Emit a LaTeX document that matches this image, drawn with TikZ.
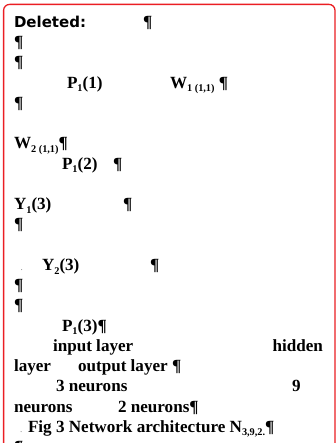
\documentclass[tikz,border=0pt]{standalone}
\usepackage{fontspec}
\setmainfont{Liberation Serif}
\newfontfamily\delfont{DejaVu Sans}
\definecolor{balloonred}{RGB}{235,30,35}
\newcommand{\mysub}[1]{\raisebox{-0.22em}{\fontsize{10.3}{12}\selectfont #1}}
\begin{document}
\begin{tikzpicture}[x=1pt,y=-1pt,
  txt/.style={anchor=base west, inner sep=0pt, outer sep=0pt, font=\bfseries\fontsize{17.1}{21}\selectfont},
  del/.style={anchor=base west, inner sep=0pt, outer sep=0pt, font=\delfont\bfseries\fontsize{15}{18}\selectfont},
  tiny/.style={anchor=base west, inner sep=0pt, outer sep=0pt, text=gray, font=\fontsize{9}{10}\selectfont}]
\useasboundingbox (0,0) rectangle (336,443);
\clip (0,0) rectangle (336,443);
\fill[white] (0,0) rectangle (336,443);
\draw[balloonred, line width=1.3pt, rounded corners=6pt] (3.6,4.4) rectangle (335,480);
% line 0
\node[del] (t0a) at (14,27.4) {Deleted:};
\node[txt] (t0b) at (143,27.4) {¶};
% lines 1,2
\node[txt] (t1) at (14,47.6) {¶};
\node[txt] (t2) at (14,67.9) {¶};
% line 3
\node[txt] (t3a) at (67,88.1) {P\mysub{1}(1)};
\node[txt] (t3b) at (170,88.1) {W\mysub{1 (1,1)} ¶};
% line 4
\node[txt] (t4) at (14,108.4) {¶};
% line 6,7
\node[txt] (t6) at (14,148.8) {W\mysub{2 (1,1)}¶};
\node[txt] (t7a) at (62,169.1) {P\mysub{1}(2)};
\node[txt] (t7b) at (113,169.1) {¶};
% line 9,10
\node[txt] (t9a) at (14,209.6) {Y\mysub{1}(3)};
\node[txt] (t9b) at (123,209.6) {¶};
\node[txt] (t10) at (14,229.8) {¶};
% line 12-14
\node[tiny] (t12d) at (20.5,270.3) {.};
\node[txt] (t12a) at (42,270.3) {Y\mysub{2}(3)};
\node[txt] (t12b) at (150,270.3) {¶};
\node[txt] (t13) at (14,290.5) {¶};
\node[txt] (t14) at (14,310.8) {¶};
% line 15
\node[txt] (t15) at (62,331.0) {P\mysub{1}(3)¶};
% line 16
\node[txt] (t16a) at (53,351.2) {input layer};
\node[txt, anchor=base east] (t16b) at (323,351.2) {hidden};
% line 17
\node[txt] (t17a) at (14,371.5) {layer};
\node[txt] (t17b) at (78,371.5) {output layer ¶};
% line 18
\node[txt] (t18a) at (56,391.7) {3 neurons};
\node[txt] (t18b) at (292,391.7) {9};
% line 19
\node[txt] (t19a) at (14,412.0) {neurons};
\node[txt] (t19b) at (118,412.0) {2 neurons¶};
% line 20
\node[tiny] (t20d) at (20,432.2) {.};
\node[txt] (t20a) at (28,432.2) {Fig 3 Network architecture N\mysub{3,9,2.}¶};
% line 21
\node[txt] (t21) at (14,452.4) {¶};
\end{tikzpicture}
\end{document}
